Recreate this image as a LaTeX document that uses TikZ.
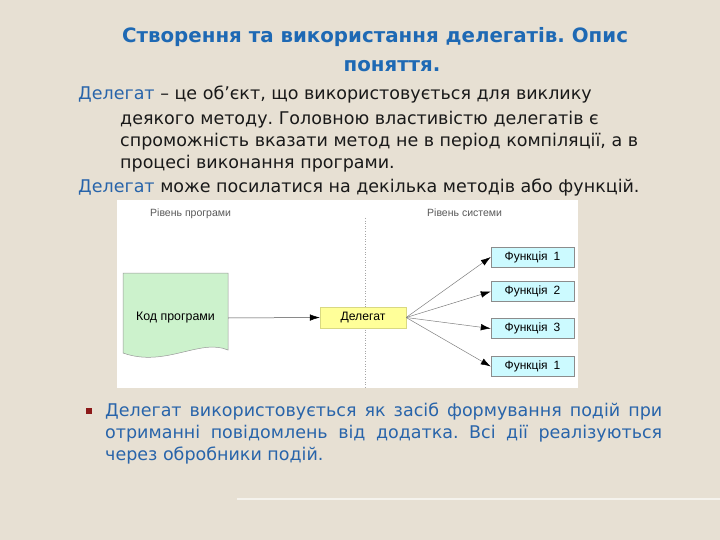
\documentclass[tikz,border=0pt]{standalone}
\usepackage{fontspec}
\setmainfont{DejaVu Sans}
\newfontfamily\arialf{Liberation Sans}
\usetikzlibrary{arrows.meta}
\definecolor{bg}{RGB}{231,224,211}
\definecolor{ttl}{RGB}{30,105,180}
\definecolor{dblue}{RGB}{40,100,170}
\definecolor{txt}{RGB}{25,25,25}
\definecolor{codegreen}{RGB}{204,242,204}
\definecolor{delyellow}{RGB}{255,255,153}
\definecolor{funccyan}{RGB}{204,250,255}
\definecolor{bulletred}{RGB}{140,25,25}
\frenchspacing
\begin{document}
\begin{tikzpicture}[x=1pt,y=-1pt,
  titlef/.style={anchor=base,font=\bfseries\fontsize{19.8}{22}\selectfont,text=ttl,inner sep=0},
  bodyf/.style={anchor=base west,font=\fontsize{17.5}{20}\selectfont,text=txt,inner sep=0},
  bullf/.style={anchor=base west,font=\fontsize{17.5}{20}\selectfont,text=dblue,inner sep=0},
  smalllab/.style={anchor=base west,font=\arialf\fontsize{10.5}{12}\selectfont,text=black!65,inner sep=0},
  funcbox/.style={draw=black!45,fill=funccyan,minimum width=83pt,minimum height=20pt,inner sep=0,font=\arialf\fontsize{12}{14}\selectfont},
  fanarrow/.style={draw=black!50,line width=0.5pt,-{Latex[length=10pt,width=6.5pt,color=black]}}
]
\fill[bg] (0,0) rectangle (720,540);
\useasboundingbox (0,0) rectangle (720,540);
\draw[white!60!bg,line width=1.5pt] (237,499) -- (720,499);

% title
\node[titlef] (t1) at (375,43) {Створення та використання делегатів. Опис};
\node[titlef] (t2) at (392,72) {поняття.};

% body
\node[bodyf] (b1) at (78,100) {\textcolor{dblue}{Делегат} – це об’єкт, що використовується для виклику};
\node[bodyf] (b2) at (120,125) {деякого методу. Головною властивістю делегатів є};
\node[bodyf] (b3) at (120,147) {спроможність вказати метод не в період компіляції, а в};
\node[bodyf] (b4) at (120,169) {процесі виконання програми.};
\node[bodyf] (b5) at (78,193) {\textcolor{dblue}{Делегат} може посилатися на декілька методів або функцій.};

% diagram panel
\fill[white] (117,200) rectangle (578,388);
\node[smalllab] (lp) at (150,216) {Рівень програми};
\node[smalllab] (ls) at (427,216) {Рівень системи};
\draw[black!35,dotted,line width=0.6pt] (365,218) -- (365,388);

\filldraw[fill=codegreen,draw=black!40,line width=0.5pt]
  (123,273) -- (228,273) -- (228,350)
  .. controls (200,338) and (165,368) .. (123,353) -- cycle;
\node[inner sep=0,minimum width=105pt,minimum height=20pt,font=\arialf\fontsize{12.4}{14}\selectfont] (code) at (175.5,318) {Код програми};

\node[fill=delyellow,draw=delyellow!85!black,line width=0.3pt,minimum width=86pt,minimum height=21pt,inner sep=0,font=\arialf\fontsize{12.2}{14}\selectfont] (del) at (363,317.5) {Делегат};

\node[funcbox] (f1) at (532.5,257) {Функція\enspace 1};
\node[funcbox] (f2) at (532.5,291.5) {Функція\enspace 2};
\node[funcbox] (f3) at (532.5,328.5) {Функція\enspace 3};
\node[funcbox] (f4) at (532.5,366.5) {Функція\enspace 1};

\draw[black!70,line width=0.5pt,-{Latex[length=10pt,width=6.5pt,color=black]}] (code.east) -- (del.west);
\draw[fanarrow] (del.east) -- (f1.west);
\draw[fanarrow] (del.east) -- (f2.west);
\draw[fanarrow] (del.east) -- (f3.west);
\draw[fanarrow] (del.east) -- (f4.west);

% bullet
\node[fill=bulletred,minimum size=6pt,inner sep=0] (bul) at (89,411) {};
\node[bullf] (p1) at (105,416) {\makebox[557pt][s]{Делегат використовується як засіб формування подій при}};
\node[bullf] (p2) at (105,438) {\makebox[557pt][s]{отриманні повідомлень від додатка. Всі дії реалізуються}};
\node[bullf] (p3) at (105,460) {через обробники подій.};
\end{tikzpicture}
\end{document}
